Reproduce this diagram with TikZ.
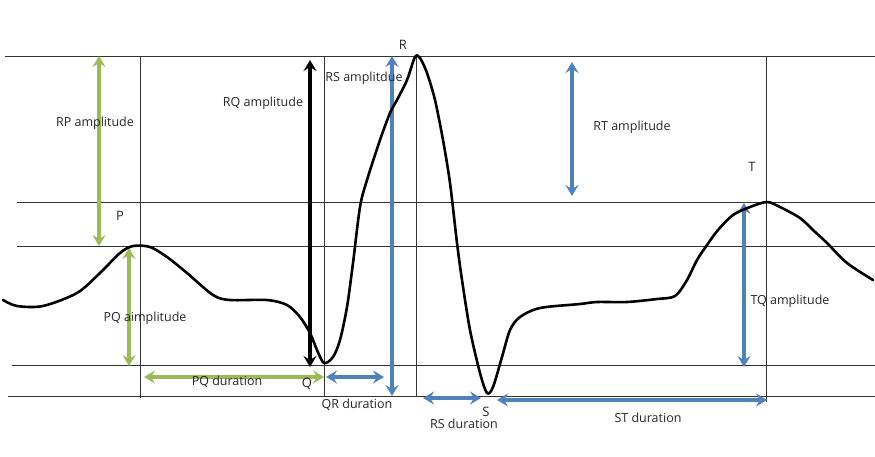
\documentclass[tikz,border=0pt]{standalone}
\usepackage{fontspec}
\setmainfont{Open Sans}
\usetikzlibrary{arrows.meta}
\definecolor{cGreen}{HTML}{9BBB59}
\definecolor{cBlue}{HTML}{4F81BD}
\definecolor{cGrid}{HTML}{333333}

\begin{document}
\begin{tikzpicture}[x=1pt, y=-1pt,
    gridline/.style={line width=0.9pt, draw=cGrid},
    trace/.style={line width=2.6pt, black, line join=round, line cap=round},
    span/.style={line width=3.3pt, draw=#1,
                 {Stealth[length=11pt,width=13pt,inset=4pt]}-{Stealth[length=11pt,width=13pt,inset=4pt]}},
    lbl/.style={font=\fontsize{12.5}{14}\selectfont, text=black!85, inner sep=0pt},
    wave/.style={font=\fontsize{13}{15}\selectfont, text=black!85, inner sep=0pt},
  ]
    \useasboundingbox (0,0) rectangle (875,456);

    % --- reference lines ----------------------------------------------------
    \foreach \xa/\y in {5/56, 17/202, 17/246, 12/365, 8/396}
      \draw[gridline] (\xa,\y) -- (875,\y);
    \foreach \x/\ya/\yb in {140/56/398, 324/57/396, 416/57/396, 766/57/402}
      \draw[gridline] (\x,\ya) -- (\x,\yb);

    % --- end points of the measures -----------------------------------------
    \coordinate (rpT) at (99,56);   \coordinate (rpB) at (99,246);
    \coordinate (pqT) at (129,248); \coordinate (pqB) at (129,366);
    \coordinate (pqL) at (144,377); \coordinate (pqR) at (324,377);
    \coordinate (rqT) at (310,60);  \coordinate (rqB) at (310,367);
    \coordinate (rsT) at (392,56);  \coordinate (rsB) at (392,396);
    \coordinate (rtT) at (572,62);  \coordinate (rtB) at (572,196);
    \coordinate (tqT) at (744,203); \coordinate (tqB) at (744,367);
    \coordinate (qrL) at (326,377); \coordinate (qrR) at (384,377);
    \coordinate (sdL) at (423,398); \coordinate (sdR) at (481,398);
    \coordinate (stL) at (497,400); \coordinate (stR) at (767,400);

    \draw[span=cGreen] (rpT) -- (rpB);
    \draw[span=cGreen] (pqT) -- (pqB);
    \draw[span=cGreen] (pqL) -- (pqR);
    \draw[span=black]  (rqT) -- (rqB);
    \draw[span=cBlue]  (rsT) -- (rsB);
    \draw[span=cBlue]  (rtT) -- (rtB);
    \draw[span=cBlue]  (tqT) -- (tqB);
    \draw[span=cBlue]  (qrL) -- (qrR);
    \draw[span=cBlue]  (sdL) -- (sdR);
    \draw[span=cBlue]  (stL) -- (stR);

    % --- the trace -----------------------------------------------------------
    \draw[trace] plot[smooth, tension=0.5] coordinates {
      (3,300) (17,306) (43,306) (77,293) (100,273) (120,253) (133,246)
      (150,247) (167,257) (187,273) (213,295) (230,300) (267,300) (287,305)
      (300,317) (310,333) (317,350) (324,363) (333,357) (340,340) (347,307)
      (353,263) (360,207) (367,180) (380,140) (390,113) (397,100) (407,80)
      (415,57) (420,58) (427,73) (435,100) (443,140) (450,183) (457,243)
      (462,280) (470,330) (480,373) (487,393) (493,387) (502,357) (510,330)
      (520,317) (540,308) (580,304) (597,302) (627,302) (657,299) (675,296)
      (687,280) (697,260) (707,245) (718,230) (733,215) (750,207) (767,202)
      (780,207) (800,218) (813,230) (827,243) (847,263) (873,280)};

    % --- wave points ---------------------------------------------------------
    \node[wave] (P) at (120,216) {P};
    \node[wave] (Q) at (307,384) {Q};
    \node[wave] (R) at (403,45)  {R};
    \node[wave] (S) at (486,412) {S};
    \node[wave] (T) at (752,167) {T};

    % --- labels --------------------------------------------------------------
    \node[lbl] (lRP) at (95,123)  {RP amplitude};
    \node[lbl] (lPQ) at (145,318) {PQ aimplitude};
    \node[lbl] (lPQd) at (227,382) {PQ duration};
    \node[lbl] (lRQ) at (263,103) {RQ amplitude};
    \node[lbl] (lRS) at (364,78)  {RS amplitdue};
    \node[lbl] (lRT) at (632,127) {RT amplitude};
    \node[lbl] (lTQ) at (790,301) {TQ amplitude};
    \node[lbl] (lQRd) at (357,405) {QR duration};
    \node[lbl] (lRSd) at (464,424) {RS duration};
    \node[lbl] (lSTd) at (648,418) {ST duration};
  \end{tikzpicture}
\end{document}
